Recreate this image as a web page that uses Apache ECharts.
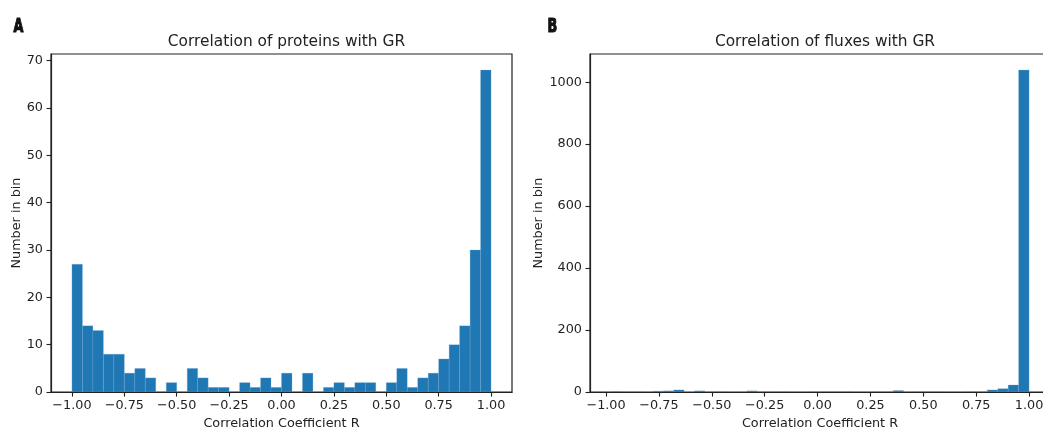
<!DOCTYPE html>
<html>
<head>
<meta charset="utf-8">
<title>Correlation histograms</title>
<script src="https://cdn.jsdelivr.net/npm/echarts@6/dist/echarts.min.js"></script>
<style>
  html, body { margin: 0; padding: 0; background: #ffffff; overflow: hidden; }
  /* the flux panel runs past the right edge of the page */
  #chart { width: 1060px; height: 435px; }
</style>
</head>
<body>
<div id="chart"></div>
<script>
// Histogram of protein correlations with growth rate (40 bins from -1 to 1)
const proteinRange = [-1.0, 1.0];
const proteinCounts = [
  27, 14, 13, 8, 8, 4, 5, 3, 0, 2,
  0, 5, 3, 1, 1, 0, 2, 1, 3, 1,
  4, 0, 4, 0, 1, 2, 1, 2, 2, 0,
  2, 5, 1, 3, 4, 7, 10, 14, 30, 68
];

// Histogram of flux correlations with growth rate (40 bins from min R to 1)
const fluxRange = [-0.977, 1.0];
const fluxCounts = [
  2, 1, 1, 0, 3, 4, 7, 0, 4, 0,
  1, 0, 0, 4, 1, 1, 1, 0, 0, 1,
  1, 1, 1, 0, 0, 1, 1, 5, 0, 1,
  1, 1, 0, 0, 1, 1, 7, 11, 23, 1039
];

const xTickValues = [-1.0, -0.75, -0.5, -0.25, 0.0, 0.25, 0.5, 0.75, 1.0];
const proteinYTicks = [0, 10, 20, 30, 40, 50, 60, 70];
const fluxYTicks = [0, 200, 400, 600, 800, 1000];

const titles = ['Correlation of proteins with GR', 'Correlation of fluxes with GR'];
const panelLetters = ['A', 'B'];
const xName = 'Correlation Coefficient R';
const yName = 'Number in bin';

// Turn bin counts into [left edge, right edge, count] rows
function binRows(range, counts) {
  const w = (range[1] - range[0]) / counts.length;
  return counts.map((c, i) => [range[0] + i * w, range[0] + (i + 1) * w, c]);
}

// Axis limits padded by 5% of the data span, like a default histogram plot
function padded(range) {
  const span = range[1] - range[0];
  return [range[0] - 0.05 * span, range[1] + 0.05 * span];
}

const FONT = "'DejaVu Sans', 'Noto Sans', sans-serif";
const INK = '#222222';
const BAR = '#1f77b4';

function fmtTick(v) {
  const s = Math.abs(v).toFixed(2);
  return v < -1e-9 ? '\u2212' + s : s;
}

function xAxis(gridIndex, range) {
  const lim = padded(range);
  return {
    type: 'value', gridIndex: gridIndex, min: lim[0], max: lim[1],
    name: xName, nameLocation: 'middle', nameGap: 23,
    nameTextStyle: { fontFamily: FONT, fontSize: 12.8, color: INK },
    axisLine: { show: true, onZero: false, lineStyle: { color: INK, width: 1.2 } },
    axisTick: { show: true, inside: false, length: 4.5, customValues: xTickValues,
                lineStyle: { color: INK, width: 1.1 } },
    axisLabel: { show: true, margin: 7, customValues: xTickValues, formatter: fmtTick,
                 fontFamily: FONT, fontSize: 12.8, color: INK },
    splitLine: { show: false }
  };
}

function yAxis(gridIndex, maxCount, ticks, gap) {
  return {
    type: 'value', gridIndex: gridIndex, min: 0, max: maxCount * 1.05,
    name: yName, nameLocation: 'middle', nameGap: gap, nameRotate: 90,
    nameTextStyle: { fontFamily: FONT, fontSize: 12.8, color: INK },
    axisLine: { show: true, onZero: false, lineStyle: { color: INK, width: 1.2 } },
    axisTick: { show: true, inside: false, length: 4.5, customValues: ticks,
                lineStyle: { color: INK, width: 1.1 } },
    axisLabel: { show: true, margin: 8, customValues: ticks, formatter: v => String(v),
                 fontFamily: FONT, fontSize: 12.8, color: INK },
    splitLine: { show: false }
  };
}

// Each bin drawn as a rectangle from the baseline to its count
function renderBin(params, api) {
  const base = api.coord([api.value(0), 0]);
  const top = api.coord([api.value(1), api.value(2)]);
  return {
    type: 'rect',
    shape: { x: base[0], y: top[1], width: top[0] - base[0], height: base[1] - top[1] },
    style: { fill: BAR, stroke: 'rgba(120,170,215,0.55)', lineWidth: 0.5 }
  };
}

function histSeries(index, rows) {
  return {
    type: 'custom', xAxisIndex: index, yAxisIndex: index,
    renderItem: renderBin, data: rows, encode: { x: [0, 1], y: 2 },
    silent: true, clip: true
  };
}

// Narrow heavy panel letter
function panelLetter(text, x, y) {
  return {
    type: 'text', left: x, top: y, scaleX: 0.64, originX: 0,
    style: { text: text, font: "bold 20px 'DejaVu Sans', sans-serif",
             fill: '#111111', stroke: '#111111', lineWidth: 1.2 }
  };
}

const chart = echarts.init(document.getElementById('chart'), null, { renderer: 'canvas' });

chart.setOption({
  backgroundColor: '#ffffff',
  animation: false,
  title: [
    { text: titles[0], left: 281.5, top: 29, textAlign: 'center',
      textStyle: { fontFamily: FONT, fontSize: 15.4, fontWeight: 'normal', color: INK } },
    { text: titles[1], left: 820, top: 29, textAlign: 'center',
      textStyle: { fontFamily: FONT, fontSize: 15.4, fontWeight: 'normal', color: INK } }
  ],
  graphic: [
    panelLetter(panelLetters[0], 13, 16),
    panelLetter(panelLetters[1], 547, 16)
  ],
  grid: [
    { left: 51, top: 54, width: 461, height: 340, show: true,
      borderColor: INK, borderWidth: 1.2, backgroundColor: 'transparent', containLabel: false },
    { left: 590, top: 54, width: 460, height: 340, show: true,
      borderColor: INK, borderWidth: 1.2, backgroundColor: 'transparent', containLabel: false }
  ],
  xAxis: [xAxis(0, proteinRange), xAxis(1, fluxRange)],
  yAxis: [
    yAxis(0, Math.max(...proteinCounts), proteinYTicks, 27),
    yAxis(1, Math.max(...fluxCounts), fluxYTicks, 35)
  ],
  series: [
    histSeries(0, binRows(proteinRange, proteinCounts)),
    histSeries(1, binRows(fluxRange, fluxCounts))
  ]
});
</script>
</body>
</html>
